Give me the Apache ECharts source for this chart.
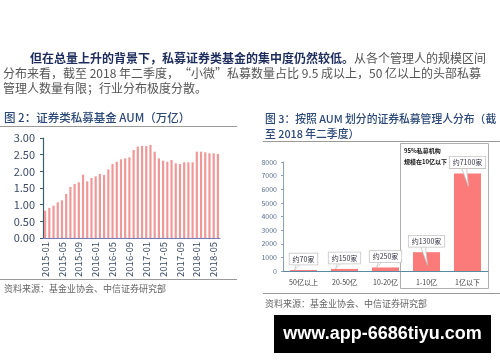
<!DOCTYPE html>
<html><head><meta charset="utf-8">
<script src="https://cdn.jsdelivr.net/npm/echarts@6/dist/echarts.min.js"></script>
<style>html,body{margin:0;padding:0;background:#fff}#c{width:500px;height:362px}</style>
</head><body><div id="c"></div>
<script>
const months = [];
for (let y = 2015; y <= 2018; y++) for (let m = 1; m <= 12; m++) { if (y === 2018 && m > 6) break; months.push(y + '-' + String(m).padStart(2, '0')); }
const aumValues = [0.82,0.90,0.97,1.07,1.13,1.32,1.53,1.62,1.67,1.90,1.70,1.80,1.85,1.92,1.89,2.06,2.22,2.29,2.36,2.39,2.42,2.64,2.74,2.76,2.76,2.79,2.59,2.39,2.32,2.29,2.34,2.24,2.22,2.27,2.27,2.27,2.59,2.59,2.57,2.54,2.54,2.52];
const sizeCats = ['50亿以上','20-50亿','10-20亿','1-10亿','1亿以下'];
const managerCounts = [70,150,260,1380,7150];
const calloutLabels = ['约70家','约150家','约250家','约1300家','约7100家'];

const F = '"Noto Sans CJK SC","Noto Sans",sans-serif';
const chart = echarts.init(document.getElementById('c'), null, {renderer:'canvas'});

function hline(x1,x2,y,c){return {type:'line',shape:{x1:x1,y1:y,x2:x2,y2:y},style:{stroke:c||'#9a9a9a',lineWidth:1}};}
function txt(x,y,t,size,color,weight,extra){return Object.assign({type:'text',x:x,y:y,style:{text:t,font:(weight||'normal')+' '+size+'px '+F,fill:color,verticalAlign:'middle'}},extra||{});}

chart.setOption({
  animation:false,
  grid:[
    {left:43,top:138,width:177,height:100},
    {left:283,top:162,width:205,height:109}
  ],
  xAxis:[
    {gridIndex:0,type:'category',data:months,
     axisLine:{lineStyle:{color:'#7a7ab8',width:1}},
     axisTick:{interval:3,length:3,lineStyle:{color:'#7a7ab8'}},
     axisLabel:{interval:3,rotate:90,fontSize:9.5,color:'#3a4a66',fontFamily:F,margin:4}},
    {gridIndex:1,type:'category',data:sizeCats,
     axisLine:{lineStyle:{color:'#5a8aa0',width:1}},
     axisTick:{show:false},
     axisLabel:{fontSize:7,color:'#444',fontFamily:F,margin:8}}
  ],
  yAxis:[
    {gridIndex:0,type:'value',min:0,max:3,interval:0.5,
     axisLine:{show:true,lineStyle:{color:'#3d5f6c',width:1.2}},
     axisTick:{show:true,length:3,lineStyle:{color:'#3d5f6c'}},
     splitLine:{show:false},
     axisLabel:{formatter:v=>v.toFixed(2),fontSize:11,color:'#3a4a66',fontFamily:F,margin:8}},
    {gridIndex:1,type:'value',min:0,max:8000,interval:1000,
     axisLine:{show:true,lineStyle:{color:'#8aa0b8',width:1}},
     axisTick:{show:true,length:2,lineStyle:{color:'#8aa0b8'}},
     splitLine:{show:false},
     axisLabel:{formatter:v=>String(v),fontSize:7,color:'#5a7090',fontFamily:F,margin:6}}
  ],
  series:[
    {type:'bar',xAxisIndex:0,yAxisIndex:0,data:aumValues,barWidth:2.2,
     itemStyle:{color:'#f09898'}},
    {type:'bar',xAxisIndex:1,yAxisIndex:1,data:managerCounts,barWidth:27,
     itemStyle:{color:'#fb7b7b'}},
    {type:'custom',xAxisIndex:1,yAxisIndex:1,z:5,
     data:managerCounts.map((v,i)=>[i,v]),
     renderItem:function(params,api){
       const i=api.value(0), v=api.value(1);
       const top=api.coord([i,v]), base=api.coord([i,0]);
       const h=base[1]-top[1];
       const cx=top[0], boxCy=top[1]-11, bb=boxCy+5;
       let pts;
       if(h>15){ pts=[[cx-6,bb],[cx-1,bb],[cx+1,top[1]+13]]; }
       else { pts=[[cx-7,bb],[cx-3,bb],[cx-9,top[1]]]; }
       return {type:'group',children:[
         {type:'polygon',shape:{points:pts},style:{fill:'#fff',stroke:'#c4c4c4',lineWidth:0.8}},
         {type:'text',style:{text:calloutLabels[params.dataIndex],x:cx,y:boxCy,align:'center',verticalAlign:'middle',
           font:'7px '+F,fill:'#334',backgroundColor:'#fff',borderColor:'#c4c4c4',borderWidth:0.8,padding:[2,3]}}
       ]};
     }}
  ],
  graphic:[
    {type:'text',x:30,y:58,style:{
      rich:{b:{font:'bold 12px '+F,fill:'#1c2c5c'},n:{font:'12px '+F,fill:'#555'}},
      text:'{b|但在总量上升的背景下，私募证券类基金的集中度仍然较低。}{n|从各个管理人的规模区间}',verticalAlign:'middle'}},
    txt(3,73,'分布来看，截至 2018 年二季度，“小微”私募数量占比 9.5 成以上，50 亿以上的头部私募',12,'#555'),
    txt(3,88,'管理人数量有限；行业分布极度分散。',12,'#555'),
    txt(4,118,'图 2：证券类私募基金 AUM（万亿）',11.5,'#2a4878','500'),
    hline(0,237,126.5),
    hline(0,237,279.5),
    txt(4,289,'资料来源：基金业协会、中信证券研究部',9,'#666'),
    txt(265,119,'图 3：按照 AUM 划分的证券私募管理人分布（截',10.8,'#2a4878','500'),
    txt(265,134,'至 2018 年二季度）',10.8,'#2a4878','500'),
    hline(263,500,141.5),
    {type:'rect',shape:{x:400.5,y:143.5,width:88,height:145},style:{fill:'none',stroke:'#b0b0b0',lineWidth:1}},
    txt(404,151,'95%私募机构',6,'#111','bold'),
    txt(404,162,'规模在10亿以下',6,'#111','bold'),
    hline(263,500,293.5),
    txt(265,304,'资料来源：基金业协会、中信证券研究部',9,'#666'),
    {type:'rect',shape:{x:274,y:315,width:217,height:38},style:{fill:'#000'}},
    {type:'text',x:382.5,y:334,style:{text:'www.app-6686tiyu.com',font:'bold 18px "Liberation Sans",Arial,sans-serif',fill:'#fff',align:'center',verticalAlign:'middle'}}
  ]
});
</script></body></html>
